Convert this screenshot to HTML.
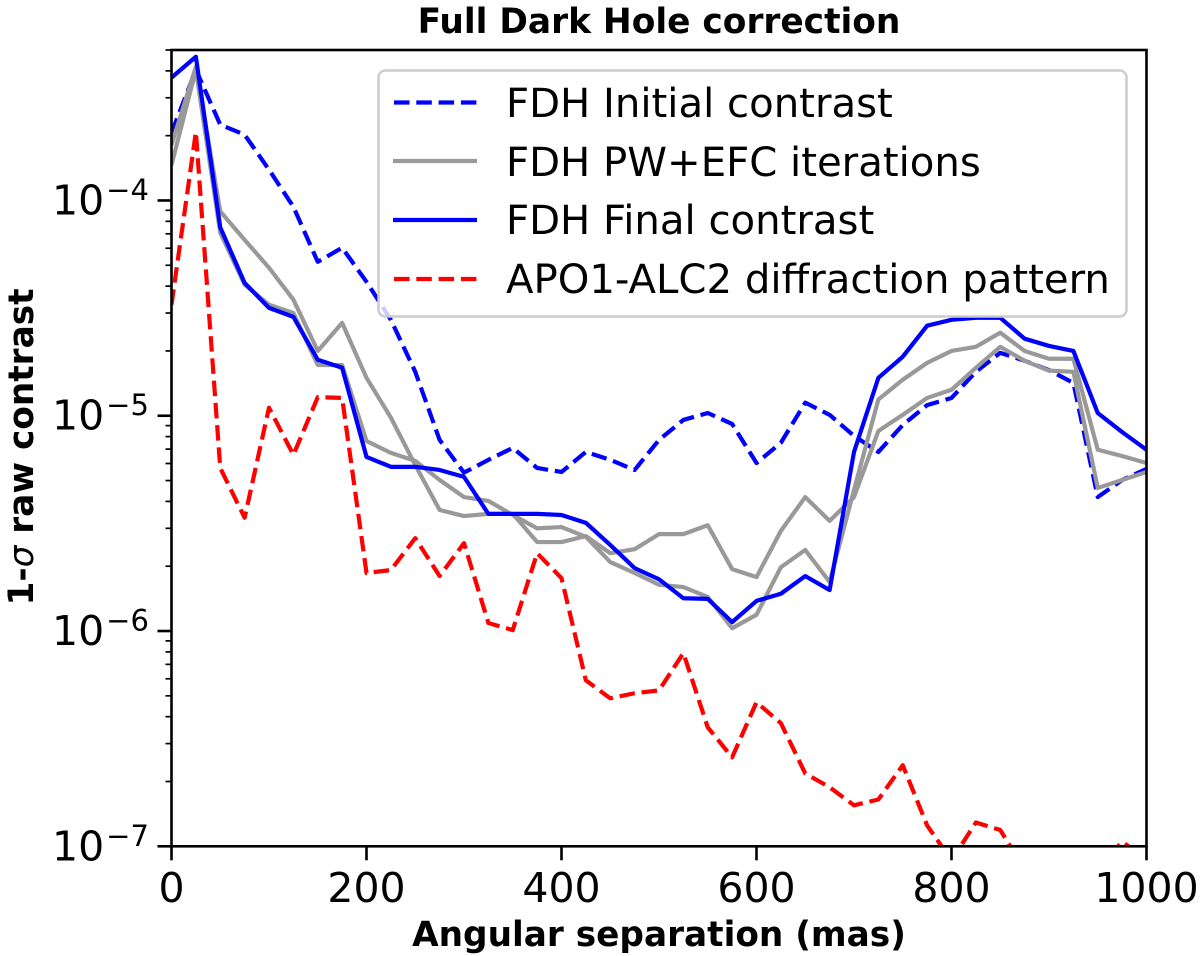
<!DOCTYPE html>
<html lang="en">
<head>
<meta charset="utf-8">
<title>Full Dark Hole correction</title>
<style>
html,body{margin:0;padding:0;background:#fff;width:1200px;height:956px;overflow:hidden}
svg{display:block}
text{font-family:"DejaVu Sans","Liberation Sans",sans-serif;fill:#000}
</style>
</head>
<body>
<svg id="chart" xmlns="http://www.w3.org/2000/svg" width="1200" height="956" viewBox="0 0 1200 956">
  <defs><clipPath id="plot-clip"><rect x="171.5" y="50" width="975" height="796.3"/></clipPath></defs>
  <rect x="0" y="0" width="1200" height="956" fill="#fff"/>
  <g id="series-layer" clip-path="url(#plot-clip)"></g>
  <g id="tick-layer"></g>
  <rect x="171.5" y="50" width="975" height="796.3" fill="none" stroke="#000" stroke-width="2.6"/>
  <text x="659" y="33" text-anchor="middle" font-size="34.4" font-weight="bold">Full Dark Hole correction</text>
  <text x="659" y="946" text-anchor="middle" font-size="34.3" font-weight="bold">Angular separation (mas)</text>
  <text transform="translate(33 447) rotate(-90)" text-anchor="middle" font-size="34.3" font-weight="bold">1-<tspan font-style="italic" font-weight="normal">σ</tspan> raw contrast</text>
  <g>
    <rect x="378.5" y="70.5" width="748" height="246" rx="7" ry="7" fill="#fff" fill-opacity="0.8" stroke="#ccc" stroke-width="2.5"/>
    <line x1="394" x2="477" y1="102.5" y2="102.5" stroke="#0000ff" stroke-width="4.2" stroke-dasharray="15.5 6.8"/>
    <text x="506" y="117" font-size="40.2">FDH Initial contrast</text>
    <line x1="393" x2="477" y1="161" y2="161" stroke="#999" stroke-width="4.2"/>
    <text x="506" y="176" font-size="40.2">FDH PW+EFC iterations</text>
    <line x1="393" x2="477" y1="220" y2="220" stroke="#0000ff" stroke-width="4.2"/>
    <text x="506" y="234" font-size="40.2">FDH Final contrast</text>
    <line x1="394" x2="477" y1="279" y2="279" stroke="#ff0000" stroke-width="4.2" stroke-dasharray="15.5 6.8"/>
    <text x="506" y="293" font-size="40.2">APO1-ALC2 diffraction pattern</text>
  </g>
</svg>
<script>
const separation = [0,25,50,75,100,125,150,175,200,225,250,275,300,325,350,375,400,425,450,475,500,525,550,575,600,625,650,675,700,725,750,775,800,825,850,875,900,925,950,975,1000];
const initialContrast = [2.06e-4,4.05e-4,2.25e-4,2.02e-4,1.39e-4,9.35e-5,5.19e-5,6.03e-5,4.19e-5,2.79e-5,1.60e-5,7.72e-6,5.44e-6,6.24e-6,7.09e-6,5.72e-6,5.48e-6,6.79e-6,6.24e-6,5.60e-6,7.72e-6,9.56e-6,1.03e-5,9.16e-6,6.03e-6,7.49e-6,1.15e-5,1.01e-5,8.06e-6,6.79e-6,9.06e-6,1.12e-5,1.21e-5,1.60e-5,1.96e-5,1.80e-5,1.63e-5,1.42e-5,4.19e-6,5.03e-6,5.66e-6];
const iterationA = [1.81e-4,4.18e-4,8.90e-5,6.56e-5,4.87e-5,3.46e-5,2.00e-5,2.70e-5,1.50e-5,9.80e-6,5.90e-6,3.65e-6,3.42e-6,3.50e-6,3.50e-6,2.59e-6,2.59e-6,2.76e-6,2.30e-6,2.40e-6,2.82e-6,2.82e-6,3.10e-6,1.94e-6,1.78e-6,2.92e-6,4.19e-6,3.25e-6,4.19e-6,8.50e-6,1.01e-5,1.21e-5,1.32e-5,1.67e-5,2.09e-5,1.80e-5,1.62e-5,1.60e-5,4.62e-6,5.03e-6,5.48e-6];
const iterationB = [1.46e-4,4.05e-4,7.08e-5,4.06e-5,3.28e-5,3.00e-5,1.72e-5,1.72e-5,7.63e-6,6.72e-6,6.17e-6,5.03e-6,4.19e-6,4.02e-6,3.46e-6,3.00e-6,3.04e-6,2.74e-6,2.09e-6,1.86e-6,1.64e-6,1.60e-6,1.44e-6,1.03e-6,1.19e-6,1.98e-6,2.38e-6,1.69e-6,4.52e-6,1.19e-5,1.47e-5,1.76e-5,2.00e-5,2.09e-5,2.43e-5,2.00e-5,1.84e-5,1.84e-5,6.95e-6,6.50e-6,6.03e-6];
const finalContrast = [3.72e-4,4.65e-4,7.50e-5,4.14e-5,3.17e-5,2.88e-5,1.82e-5,1.67e-5,6.44e-6,5.79e-6,5.79e-6,5.60e-6,5.20e-6,3.50e-6,3.50e-6,3.50e-6,3.46e-6,3.18e-6,2.51e-6,1.96e-6,1.74e-6,1.42e-6,1.41e-6,1.10e-6,1.38e-6,1.49e-6,1.80e-6,1.55e-6,6.79e-6,1.50e-5,1.88e-5,2.62e-5,2.79e-5,2.85e-5,2.85e-5,2.28e-5,2.11e-5,2.00e-5,1.03e-5,8.40e-6,6.95e-6];
const diffractionPattern = [3.28e-5,2.08e-4,5.72e-6,3.36e-6,1.09e-5,6.58e-6,1.22e-5,1.21e-5,1.86e-6,1.92e-6,2.70e-6,1.80e-6,2.56e-6,1.09e-6,1.01e-6,2.30e-6,1.76e-6,5.90e-7,4.87e-7,5.14e-7,5.30e-7,7.90e-7,3.57e-7,2.59e-7,4.67e-7,3.73e-7,2.18e-7,1.88e-7,1.55e-7,1.65e-7,2.38e-7,1.25e-7,8.6e-8,1.29e-7,1.19e-7,7.8e-8,6.6e-8,6.3e-8,7.8e-8,1.05e-7,8.7e-8];
const xTickLabels = ["0","200","400","600","800","1000"];
const yTickExponents = ["-7","-6","-5","-4"];
const yMinorFactors = [2,3,4,5,6,7,8,9];
const xDomain = [0,1000];
const yDomain = [1e-7,5e-4];

const NS = "http://www.w3.org/2000/svg";
const plotLeft = 171.5, plotRight = 1146.5, plotTop = 50, plotBottom = 846.3;
function xScale(v){ return plotLeft + (v - xDomain[0]) / (xDomain[1] - xDomain[0]) * (plotRight - plotLeft); }
function yScale(v){ return plotBottom - (Math.log10(v) - Math.log10(yDomain[0])) / (Math.log10(yDomain[1]) - Math.log10(yDomain[0])) * (plotBottom - plotTop); }
function svgEl(tag, attrs){
  const el = document.createElementNS(NS, tag);
  for (const k in attrs) el.setAttribute(k, attrs[k]);
  return el;
}
function drawLine(values, color, dashed){
  const pts = values.map(function(v, i){ return xScale(separation[i]).toFixed(2) + "," + yScale(v).toFixed(2); }).join(" ");
  const attrs = {points: pts, fill: "none", stroke: color, "stroke-width": 4.2, "stroke-linejoin": "round"};
  if (dashed) attrs["stroke-dasharray"] = "15.5 6.8";
  return svgEl("polyline", attrs);
}
const seriesLayer = document.getElementById("series-layer");
const tickLayer = document.getElementById("tick-layer");

const lineInitial = drawLine(initialContrast, "#0000ff", true);


seriesLayer.appendChild(lineInitial);

const lineIterA = drawLine(iterationA, "#999", false);


seriesLayer.appendChild(lineIterA);

const lineIterB = drawLine(iterationB, "#999", false);


seriesLayer.appendChild(lineIterB);

const lineFinal = drawLine(finalContrast, "#0000ff", false);


seriesLayer.appendChild(lineFinal);

const lineDiffraction = drawLine(diffractionPattern, "#ff0000", true);


seriesLayer.appendChild(lineDiffraction);

xTickLabels.forEach(function(label){
  const x = xScale(Number(label));
  const tick = svgEl("line", {x1: x, x2: x, y1: plotBottom, y2: plotBottom + 14, stroke: "#000", "stroke-width": 2.6});
  
  
  tickLayer.appendChild(tick);
  const text = svgEl("text", {x: x, y: 902, "text-anchor": "middle", "font-size": 41});
  
  
  text.textContent = label;
  tickLayer.appendChild(text);
});

yTickExponents.forEach(function(exp){
  const y = yScale(Math.pow(10, Number(exp)));
  const tick = svgEl("line", {x1: plotLeft - 14, x2: plotLeft, y1: y, y2: y, stroke: "#000", "stroke-width": 2.6});
  
  
  tickLayer.appendChild(tick);
  const text = svgEl("text", {x: 52, y: y + 14, "font-size": 41});
  
  
  text.textContent = "10";
  const sup = svgEl("tspan", {dy: -14.5, "font-size": 29, dx: 2});
  
  
  sup.textContent = "\u2212" + exp.slice(1);
  text.appendChild(sup);
  tickLayer.appendChild(text);
  yMinorFactors.forEach(function(f){
    const v = f * Math.pow(10, Number(exp));
    if (v > yDomain[1]) return;
    const my = yScale(v);
    const minor = svgEl("line", {x1: plotLeft - 6, x2: plotLeft, y1: my, y2: my, stroke: "#000", "stroke-width": 1.7});
    
    
    tickLayer.appendChild(minor);
  });
});
</script>
</body>
</html>
